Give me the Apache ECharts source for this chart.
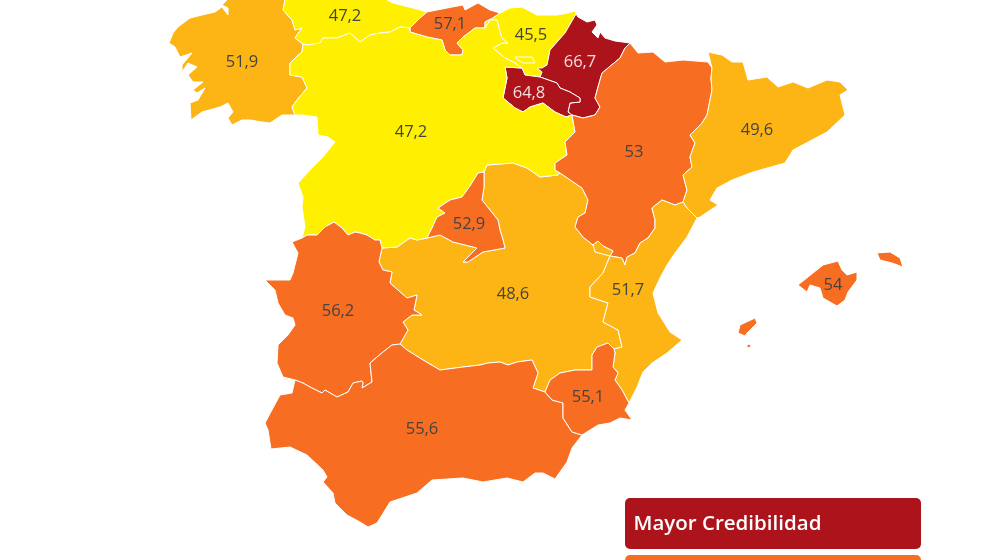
<!DOCTYPE html>
<html><head><meta charset="utf-8">
<style>html,body{margin:0;padding:0;background:#fff}#c{width:981px;height:560px}</style>
<script src="https://cdn.jsdelivr.net/npm/echarts@6/dist/echarts.min.js"></script>
</head><body><div id="c"></div>
<script>
// ---- data ----
const regionNames = ['Galicia','Asturias','Cantabria','País Vasco','Navarra','La Rioja','Castilla-La Mancha','Castilla y León','Aragón','Cataluña','Madrid','Comunidad Valenciana','Extremadura','Andalucía','Murcia','Baleares'];
const regionValues = [51.9,47.2,57.1,45.5,66.7,64.8,48.6,47.2,53,49.6,52.9,51.7,56.2,55.6,55.1,54];
const binLimits = [60,52.5,48];
const binColors = ['#ad131b','#f76e22','#fdb515','#fff000'];
const labelColors = ['#f5dcdc','#444444','#444444','#444444'];
const legendLabels = ['Mayor Credibilidad'];

// ---- map outline (shared borders) ----
const arcs = {
 galAst:[[286,-8],[285,0],[283,10],[292,20],[295,30],[302,28],[297,35],[295,38],[303,44]],
 galCyl:[[303,44],[302,52],[296,57],[290,63],[290,75],[302,77],[307,88],[297,100],[292,107],[295,115]],
 galCoast:[[295,115],[282,115],[270,123],[262,122],[250,120],[242,120],[232,125],[228,118],[233,112],[228,103],[220,107],[202,112],[191,120],[190,103],[198,100],[205,88],[197,93],[193,90],[203,82],[193,82],[188,75],[197,67],[188,63],[182,72],[182,65],[192,53],[180,57],[175,47],[169,43],[173,33],[178,27],[190,18],[202,15],[215,12],[222,7],[228,15],[228,8],[222,5],[227,0],[228,-8],[286,-8]],
 astCoast:[[286,-8],[387,-8],[387,0],[393,3],[413,8],[427,12]],
 astCan:[[427,12],[420,18],[410,28]],
 astCyl:[[410,28],[400,27],[390,32],[380,33],[370,35],[360,42],[350,33],[337,38],[323,38],[320,43],[307,45],[303,44]],
 canCoast:[[427,12],[447,8],[463,5],[465,10],[478,3],[490,10],[500,13]],
 canPv:[[500,13],[493,18],[485,22],[485,28]],
 canCyl:[[485,28],[475,28],[462,38],[457,43],[463,50],[462,55],[450,55],[445,50],[442,40],[427,37],[410,32],[410,28]],
 pvCoast:[[500,13],[510,8],[522,7],[537,15],[557,15],[568,13],[575,11],[576,14]],
 pvCyl:[[485,28],[490,20],[497,20],[500,32],[502,38],[508,43],[502,43],[493,48],[505,58],[515,63],[522,68]],
 pvRio:[[522,68],[525,75],[540,77]],
 pvNav:[[576,14],[565,33],[550,50],[547,65],[542,68],[537,68],[542,72],[540,77]],
 navCoast:[[576,14],[578,17],[587,22],[595,20],[597,25],[592,32],[598,38],[600,32],[605,38],[615,41],[630,43]],
 navAra:[[630,43],[625,48],[620,58],[608,68],[602,73],[598,87],[595,98],[600,107],[595,115],[583,118],[572,115]],
 navRio:[[540,77],[557,83],[560,88],[570,92],[580,98],[580,102],[570,103],[568,112],[572,115]],
 rioCyl:[[522,68],[505,67],[507,78],[503,98],[515,108],[523,112],[530,107],[543,103],[555,112],[566,117],[572,115]],
 araCyl:[[572,115],[575,132],[565,142],[567,155],[555,163],[555,170],[560,173]],
 cylClm:[[560,173],[558,175],[540,177],[527,168],[513,163],[487,165],[484,172]],
 cylMad:[[484,172],[478,173],[470,186],[462,197],[450,200],[438,208],[445,213],[437,217],[432,228],[427,238]],
 madClm:[[484,172],[484,187],[482,200],[490,210],[498,220],[500,230],[503,240],[505,248],[483,252],[468,262],[463,262],[467,258],[477,248],[453,242],[440,235],[427,238]],
 cylClm2:[[427,238],[417,240],[410,238],[397,247],[382,248]],
 cylExt:[[382,248],[380,240],[375,240],[367,235],[360,233],[355,232],[348,235],[342,228],[334,222],[325,227],[317,235],[307,235],[302,238]],
 cylWest:[[302,238],[305,227],[302,207],[303,197],[298,183],[312,168],[323,157],[335,142],[328,137],[318,135],[317,117],[303,115],[295,115]],
 araCoast:[[630,43],[638,53],[653,52],[665,62],[683,60],[708,62],[712,68]],
 araCat:[[712,68],[711,78],[712,90],[707,115],[702,123],[690,135],[695,143],[690,157],[692,167],[683,175],[687,190],[683,202]],
 araVal:[[683,202],[675,205],[662,200],[652,208],[655,220],[655,228],[648,238],[640,243],[635,253],[627,257],[625,265],[622,258],[610,256]],
 araClm:[[610,256],[613,251],[603,246],[598,241],[593,245],[583,237],[575,227],[578,217],[585,213],[588,200],[582,188],[560,173]],
 catCoast:[[712,68],[708,52],[722,55],[732,62],[743,62],[748,80],[767,77],[778,87],[793,82],[808,88],[827,80],[840,82],[848,90],[840,95],[845,115],[827,132],[793,150],[785,163],[753,172],[732,180],[717,188],[710,200],[718,205],[700,217],[697,218]],
 valCat:[[683,202],[687,208],[697,218]],
 valCoast:[[697,218],[687,237],[675,253],[667,265],[660,278],[653,293],[658,313],[670,332],[682,340],[667,353],[652,363],[643,372],[637,387],[629,403]],
 valMur:[[629,403],[622,390],[615,380],[618,373],[613,367],[615,353],[614,349]],
 valClm:[[610,256],[603,273],[590,287],[590,297],[608,303],[603,322],[618,330],[622,347],[614,349]],
 clmMur:[[545,392],[550,380],[560,373],[575,370],[592,370],[592,355],[597,347],[608,343],[614,349]],
 clmAnd:[[400,344],[407,350],[423,360],[440,370],[463,367],[480,365],[488,363],[500,362],[508,365],[517,362],[532,360],[538,373],[533,388],[545,392]],
 clmExt:[[382,248],[379,262],[383,270],[392,272],[390,283],[407,298],[417,295],[414,310],[422,315],[412,315],[403,322],[408,330],[400,344]],
 extAnd:[[295,380],[303,383],[310,387],[322,393],[325,390],[337,397],[348,392],[353,383],[362,381],[363,383],[362,388],[372,382],[370,363],[383,352],[392,345],[400,344]],
 extWest:[[302,238],[292,242],[298,253],[293,273],[290,280],[265,280],[275,290],[278,303],[285,315],[293,318],[295,325],[288,335],[278,345],[277,363],[283,377],[295,380]],
 andCoast:[[295,380],[292,393],[280,395],[273,408],[265,423],[268,430],[271,449],[290,447],[307,455],[323,470],[327,477],[323,482],[333,493],[335,503],[347,515],[360,522],[368,527],[377,523],[382,515],[390,502],[417,493],[432,480],[463,478],[483,482],[507,478],[523,482],[535,473],[543,473],[555,479],[567,462],[572,448],[582,435]],
 murAnd:[[545,392],[552,400],[563,403],[563,418],[572,432],[582,435]],
 murCoast:[[629,403],[625,410],[632,420],[620,418],[610,423],[598,425],[582,435]]
};
const extraRings = {
 'Castilla y León':[[[515,57],[532,57],[535,63],[523,63],[518,60]]],
 'Comunidad Valenciana':[[[593,245],[598,241],[603,246],[613,251],[610,256],[595,252]]],
 'Baleares':[
  [[798,285],[813,273],[823,265],[838,261],[842,270],[847,275],[857,272],[857,280],[848,292],[845,300],[837,306],[823,298],[820,288],[810,285],[807,292]],
  [[877,253],[890,252],[900,258],[903,267],[892,263],[880,260]],
  [[738,333],[740,325],[755,318],[757,323],[747,333],[745,336]],
  [[747,345],[750,344],[751,347],[747,348]]]
};
const regionRings = {
 'Galicia':['galAst','galCyl','galCoast'],
 'Asturias':['astCoast','astCan','astCyl','-galAst'],
 'Cantabria':['canCoast','canPv','canCyl','-astCan'],
 'País Vasco':['pvCoast','pvNav','-pvRio','-pvCyl','-canPv'],
 'Navarra':['navCoast','navAra','-navRio','-pvNav'],
 'La Rioja':['pvRio','navRio','-rioCyl'],
 'Castilla-La Mancha':['cylClm','madClm','cylClm2','clmExt','clmAnd','clmMur','-valClm','araClm'],
 'Castilla y León':['-astCyl','-canCyl','pvCyl','rioCyl','araCyl','cylClm','cylMad','cylClm2','cylExt','cylWest','-galCyl'],
 'Aragón':['-navAra','araCoast','araCat','araVal','araClm','-araCyl'],
 'Cataluña':['catCoast','-valCat','-araCat'],
 'Madrid':['cylMad','-madClm'],
 'Comunidad Valenciana':['-araVal','valCat','valCoast','valMur','-valClm'],
 'Extremadura':['clmExt','-extAnd','-extWest','-cylExt'],
 'Andalucía':['extAnd','clmAnd','murAnd','-andCoast'],
 'Murcia':['clmMur','-valMur','murCoast','-murAnd'],
 'Baleares':[]
};
const labelAnchors = {
 'Galicia':[242,62],'Asturias':[345,16],'Cantabria':[450,24],'País Vasco':[531,35],'Navarra':[580,62],'La Rioja':[529,93],
 'Castilla y León':[411,132],'Aragón':[634,152],'Cataluña':[757,130],'Madrid':[469,224],'Castilla-La Mancha':[513,294],
 'Comunidad Valenciana':[628,290],'Extremadura':[338,311],'Andalucía':[422,429],'Murcia':[588,397],'Baleares':[833,285]
};

// ---- build ----
const toGeo = p => [p[0], -p[1]];
function ring(list){
  const out=[];
  list.forEach(k=>{
    const rev=k[0]==='-';
    const a=arcs[rev?k.slice(1):k];
    const pts=rev?a.slice().reverse():a;
    pts.forEach(p=>out.push(toGeo(p)));
  });
  out.push(out[0]);
  return out;
}
const features = regionNames.map(name=>{
  const polys=[];
  if(regionRings[name].length) polys.push([ring(regionRings[name])]);
  (extraRings[name]||[]).forEach(r=>{const g=r.map(toGeo);g.push(g[0]);polys.push([g]);});
  return {type:'Feature',properties:{name,cp:toGeo(labelAnchors[name])},geometry:{type:'MultiPolygon',coordinates:polys}};
});
echarts.registerMap('espana',{geoJSON:{type:'FeatureCollection',features}});
const binOf = v => { const i=binLimits.findIndex(l=>v>=l); return i<0?binLimits.length:i; };
const FONT = '"Open Sans", sans-serif';
const chart = echarts.init(document.getElementById('c'),null,{renderer:'canvas'});
chart.setOption({
  animation:false,
  backgroundColor:'#ffffff',
  series:[{
    type:'map',map:'espana',roam:false,silent:true,
    aspectScale:1,
    boundingCoords:[[0,0],[981,-560]],
    layoutCenter:['50%','50%'],layoutSize:981,
    itemStyle:{borderColor:'#ffffff',borderWidth:1},
    label:{show:true,fontFamily:FONT,fontSize:16.5},
    data:regionNames.map((name,i)=>{
      const b=binOf(regionValues[i]);
      return {name,value:regionValues[i],
        itemStyle:{areaColor:binColors[b]},
        label:{color:labelColors[b],formatter:String(regionValues[i]).replace('.',',')}};
    })
  }],
  graphic:[
    {type:'rect',silent:true,shape:{x:625,y:498,width:296,height:51,r:5},style:{fill:binColors[0]}},
    {type:'rect',silent:true,shape:{x:625,y:555,width:296,height:51,r:5},style:{fill:binColors[1]}},
    {type:'text',silent:true,style:{x:633.5,y:524.5,text:legendLabels[0],fill:'#ffffff',font:'600 20.5px "Open Sans", sans-serif',verticalAlign:'middle'}}
  ]
});
</script></body></html>
